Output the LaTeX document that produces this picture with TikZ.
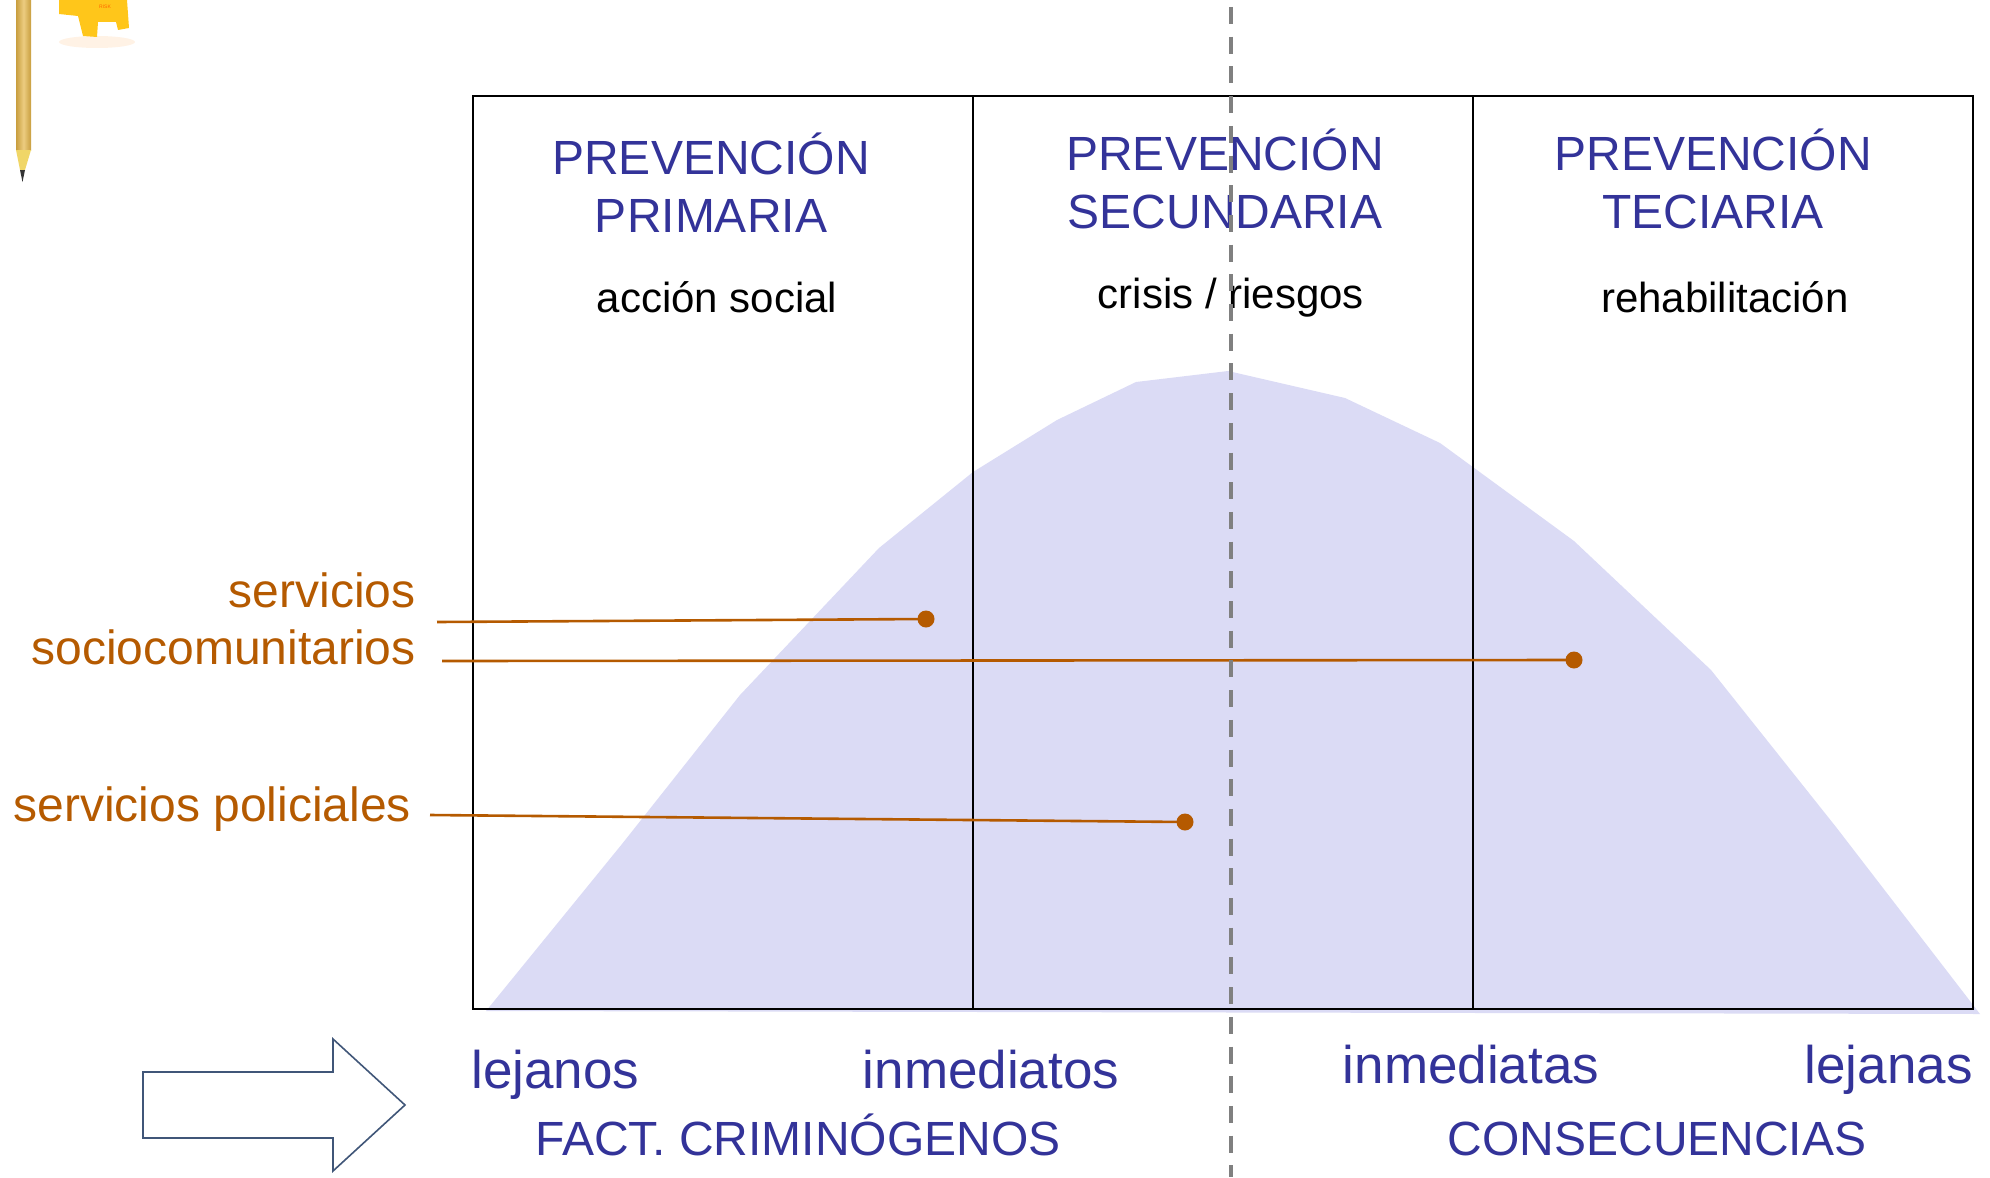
\documentclass[tikz,border=0pt]{standalone}
\usepackage{fontspec}
\setmainfont{Liberation Sans}
\definecolor{headblue}{RGB}{51,51,153}
\definecolor{servorange}{RGB}{181,90,0}
\definecolor{bellfill}{RGB}{219,219,245}
\definecolor{arrowblue}{RGB}{64,86,120}
\definecolor{pencilgold}{RGB}{200,158,62}
\definecolor{pencillight}{RGB}{236,204,128}
\definecolor{signyellow}{RGB}{255,198,26}
\begin{document}
\begin{tikzpicture}[x=0.5pt,y=-0.5pt,
  head/.style={text=headblue,font=\fontsize{24}{28}\selectfont,inner sep=0pt,anchor=base},
  sub/.style={text=black,font=\fontsize{21}{25}\selectfont,inner sep=0pt,anchor=base},
  serv/.style={text=servorange,font=\fontsize{24}{28}\selectfont,inner sep=0pt},
  axis/.style={text=headblue,font=\fontsize{26.5}{30}\selectfont,inner sep=0pt},
  group/.style={text=headblue,font=\fontsize{24}{28}\selectfont,inner sep=0pt,anchor=base},
  dot/.style={circle,fill=servorange,inner sep=0pt,minimum size=8.5pt},
  link/.style={draw=servorange,line width=1.3pt},
  frame/.style={draw=black,line width=1.4pt},
  divider/.style={draw=black,line width=1pt}]
\useasboundingbox (0,0) rectangle (1990,1177);

% decorative pencil and sign in the top-left corner
\shade[left color=pencilgold,right color=pencilgold,middle color=pencillight]
  (16,-2) rectangle (31,150);
\fill[pencillight!80!yellow] (16,150) -- (31,150) -- (25,170) -- (20,170) -- cycle;
\fill[black!80] (20,170) -- (25,170) -- (22.5,182) -- cycle;
\fill[orange!20,opacity=0.5] (97,42) ellipse (38 and 6);
\fill[signyellow] (59,0) -- (59,14) -- (78,16) -- (83,36) -- (97,37) -- (98,22)
  -- (116,22) -- (118,30) -- (129,28) -- (127,0) -- cycle;
\node[text=orange!80!red,font=\fontsize{2.5}{3}\selectfont,inner sep=0pt] (signtext) at (105,7) {RISK};

% bell-shaped area
\fill[bellfill] (486,1011) -- (622,844) -- (740,695) -- (879,548) -- (973,472)
  -- (1057,420) -- (1136,382) -- (1228,371) -- (1345,398) -- (1440,443)
  -- (1574,541) -- (1711,670) -- (1836,827) -- (1980,1014) -- cycle;

% frame with three columns
\draw[divider] (973,96) -- (973,1009);
\draw[divider] (1473,96) -- (1473,1009);
\draw[frame] (473,96) rectangle (1973,1009);

% column headings
\node[head] (h1a) at (711,174) {PREVENCIÓN};
\node[head] (h1b) at (711,232) {PRIMARIA};
\node[head] (h2a) at (1225,170) {PREVENCIÓN};
\node[head] (h2b) at (1225,228) {SECUNDARIA};
\node[head] (h3a) at (1713,170) {PREVENCIÓN};
\node[head] (h3b) at (1713,228) {TECIARIA};
\node[sub] (s1) at (717,312) {acción social};
\node[sub] (s2) at (1231,308) {crisis / riesgos};
\node[sub] (s3) at (1725,312) {rehabilitación};

% services and their positions
\node[serv,anchor=base east] (servA) at (416,607) {servicios};
\node[serv,anchor=base east] (servB) at (416,664) {sociocomunitarios};
\node[serv,anchor=base west] (servC) at (13,821) {servicios policiales};
\coordinate (startA) at (437,622);
\coordinate (startB) at (442,661);
\coordinate (startC) at (430,815);
\node[dot] (dotA) at (926,619) {};
\node[dot] (dotB) at (1574,660) {};
\node[dot] (dotC) at (1185,822) {};
\draw[link] (startA) -- (dotA.center);
\draw[link] (startB) -- (dotB.center);
\draw[link] (startC) -- (dotC.center);

% axis labels
\node[axis,anchor=base west] (lejanos) at (471,1088) {lejanos};
\node[axis,anchor=base] (inmA) at (991,1088) {inmediatos};
\node[axis,anchor=base] (inmB) at (1471,1083) {inmediatas};
\node[axis,anchor=base east] (lejanas) at (1973,1083) {lejanas};
\node[group] (fact) at (798,1155) {FACT. CRIMINÓGENOS};
\node[group] (cons) at (1657,1155) {CONSECUENCIAS};

% block arrow
\draw[arrowblue,line width=0.8pt,line join=miter]
  (143,1072) -- (333,1072) -- (333,1039) -- (405,1105) -- (333,1171)
  -- (333,1138) -- (143,1138) -- cycle;

% dashed centre line
\draw[draw=black!50,line width=2pt,dash pattern=on 8.5pt off 6.35pt,dash phase=-3.5pt]
  (1231,0) -- (1231,1177);
\end{tikzpicture}
\end{document}
